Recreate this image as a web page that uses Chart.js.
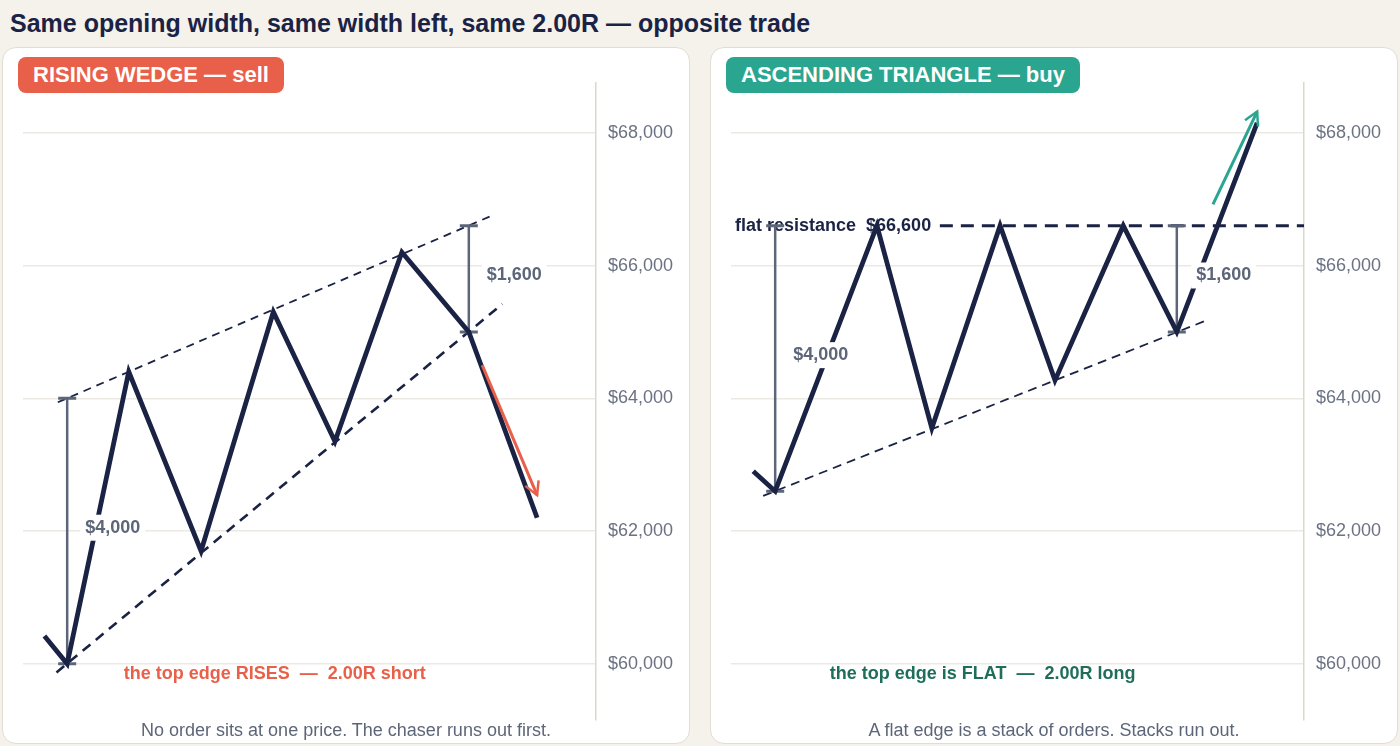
<!DOCTYPE html>
<html>
<head>
<meta charset="utf-8">
<script src="https://cdn.jsdelivr.net/npm/chart.js@4.4.1/dist/chart.umd.min.js"></script>
<style>
  body { margin:0; width:1400px; height:746px; background:#f5f2ec; font-family:"Liberation Sans", Arial, sans-serif; position:relative; overflow:hidden; }
  h1 { position:absolute; left:10px; top:8px; margin:0; font-size:25px; line-height:30px; color:#1b2345; font-weight:bold; }
  .card { position:absolute; top:47px; width:688px; height:697px; box-sizing:border-box; background:#fff; border:1px solid #e2ddd2; border-radius:14px; }
  .card canvas { position:absolute; left:0; top:0; }
  .badge { position:absolute; left:15px; top:9px; height:36px; line-height:36px; padding:0 15px; border-radius:8px; color:#fff; font-weight:bold; font-size:22px; }
  .caption { position:absolute; left:0; width:100%; top:671px; text-align:center; font-size:18px; line-height:22px; color:#5d6679; }
</style>
</head>
<body>
<h1>Same opening width, same width left, same 2.00R — opposite trade</h1>

<div class="card" style="left:2px">
  <canvas id="wedge" width="686" height="695"></canvas>
  <div class="badge" style="background:#e8604a">RISING WEDGE — sell</div>
  <div class="caption">No order sits at one price. The chaser runs out first.</div>
</div>

<div class="card" style="left:710px">
  <canvas id="triangle" width="686" height="695"></canvas>
  <div class="badge" style="background:#2aa58f">ASCENDING TRIANGLE — buy</div>
  <div class="caption">A flat edge is a stack of orders. Stacks run out.</div>
</div>

<script>
// price ticks shared by both panels
const yTicks = [60000, 62000, 64000, 66000, 68000];

// rising wedge
const wedgeX = [-1.7, 0, 4.6, 10, 15.4, 20, 25, 30, 35.1];
const wedgeY = [60420, 60000, 64400, 61700, 65300, 63350, 66200, 65000, 62200];
const wedgeTopX = [-0.7, 31.7];
const wedgeTopY = [63940, 66750];
const wedgeBotX = [-0.8, 32.5];
const wedgeBotY = [59870, 65420];
const wedgeArrowX = [31.0, 35.1];
const wedgeArrowY = [64500, 62540];
const wedgeMeasureX = [0, 30];
const wedgeMeasureTop = [64000, 66600];
const wedgeMeasureBot = [60000, 65000];

// ascending triangle
const triX = [-1.64, 0, 7.6, 11.7, 16.8, 20.9, 26.0, 30, 36.0];
const triY = [62900, 62600, 66600, 63550, 66600, 64270, 66600, 65000, 68150];
const triFlatX = [12.3, 39.5];
const triFlatY = [66600, 66600];
const triBotX = [-0.9, 32.3];
const triBotY = [62530, 65180];
const triArrowX = [32.7, 36.0];
const triArrowY = [66920, 68320];
const triMeasureX = [0, 30];
const triMeasureTop = [66600, 66600];
const triMeasureBot = [62600, 65000];

const FONT = '"Liberation Sans", Arial, sans-serif';
const NAVY = '#1b2345';
const SLATE = '#5d6679';

const pts = (xs, ys) => xs.map((x, i) => ({ x: x, y: ys[i] }));
const money = v => '$' + v.toLocaleString('en-US');

function measureSets(xs, tops, bots) {
  return xs.map((x, i) => ({
    data: [{ x: x, y: tops[i] }, { x: x, y: bots[i] }],
    borderColor: SLATE, borderWidth: 2.5,
    pointStyle: 'line', pointRadius: 9, pointBorderWidth: 3,
    pointBorderColor: SLATE, pointBackgroundColor: SLATE
  }));
}

function drawText(chart, l) {
  const ctx = chart.ctx;
  const x = chart.scales.x.getPixelForValue(l.x);
  const y = chart.scales.y.getPixelForValue(l.y);
  ctx.save();
  ctx.font = 'bold 18px ' + FONT;
  ctx.textAlign = l.align || 'center';
  ctx.textBaseline = 'middle';
  if (l.bg) {
    const w = ctx.measureText(l.text).width;
    const left = l.align === 'left' ? x : x - w / 2;
    ctx.fillStyle = '#fff';
    ctx.fillRect(left - 5, y - 13, w + 10, 26);
  }
  ctx.fillStyle = l.color;
  ctx.fillText(l.text, x, y);
  ctx.restore();
}

// labels and arrow heads, placed through the chart scales
const notes = {
  id: 'notes',
  beforeDatasetsDraw(chart, args, opts) {
    (opts.under || []).forEach(l => drawText(chart, l));
  },
  afterDatasetsDraw(chart, args, opts) {
    const ctx = chart.ctx;
    if (opts.arrow) {
      const meta = chart.getDatasetMeta(opts.arrow.index);
      const a = meta.data[0], b = meta.data[1];
      const ang = Math.atan2(b.y - a.y, b.x - a.x);
      ctx.save();
      ctx.strokeStyle = opts.arrow.color;
      ctx.lineWidth = 2.5;
      ctx.lineJoin = 'miter';
      ctx.beginPath();
      ctx.moveTo(b.x - 15 * Math.cos(ang - 0.5), b.y - 15 * Math.sin(ang - 0.5));
      ctx.lineTo(b.x, b.y);
      ctx.lineTo(b.x - 15 * Math.cos(ang + 0.5), b.y - 15 * Math.sin(ang + 0.5));
      ctx.stroke();
      ctx.restore();
    }
    (opts.over || []).forEach(l => drawText(chart, l));
  }
};

function makePanel(id, datasets, noteOpts) {
  return new Chart(document.getElementById(id), {
    type: 'line',
    data: { datasets: datasets },
    plugins: [notes],
    options: {
      responsive: false,
      animation: false,
      layout: { padding: { left: 20, top: 35, right: 0, bottom: 20 } },
      plugins: { legend: { display: false }, tooltip: { enabled: false }, notes: noteOpts },
      elements: { line: { tension: 0 } },
      scales: {
        x: { type: 'linear', min: -3.3, max: 39.5, display: false },
        y: {
          type: 'linear', position: 'right', min: 59150, max: 68750,
          afterBuildTicks: s => { s.ticks = yTicks.map(v => ({ value: v })); },
          afterFit: s => { s.width = 93; },
          grid: { color: '#ece9e2', lineWidth: 1.5, drawTicks: false },
          border: { color: '#dcd7cc', width: 1.5 },
          ticks: { padding: 12, color: '#6b7283', font: { size: 18, family: FONT }, callback: v => money(v) }
        }
      }
    }
  });
}

Chart.defaults.font.family = FONT;

makePanel('wedge', [
  { data: pts(wedgeArrowX, wedgeArrowY), borderColor: '#e8604a', borderWidth: 3, pointRadius: 0 },
  { data: pts(wedgeX, wedgeY), borderColor: NAVY, borderWidth: 4.8, pointRadius: 0, borderJoinStyle: 'miter' },
  ...measureSets(wedgeMeasureX, wedgeMeasureTop, wedgeMeasureBot),
  { data: pts(wedgeTopX, wedgeTopY), borderColor: NAVY, borderWidth: 1.8, borderDash: [8, 6], pointRadius: 0 },
  { data: pts(wedgeBotX, wedgeBotY), borderColor: NAVY, borderWidth: 2.6, borderDash: [10, 7], pointRadius: 0 }
], {
  arrow: { index: 0, color: '#e8604a' },
  over: [
    { text: money(wedgeMeasureTop[0] - wedgeMeasureBot[0]), x: 3.4, y: 62050, color: SLATE, bg: true },
    { text: money(wedgeMeasureTop[1] - wedgeMeasureBot[1]), x: 33.4, y: 65850, color: SLATE, bg: true },
    { text: 'the top edge RISES  —  2.00R short', x: 15.5, y: 59850, color: '#e8604a' }
  ]
});

makePanel('triangle', [
  { data: pts(triArrowX, triArrowY), borderColor: '#2aa58f', borderWidth: 3, pointRadius: 0 },
  { data: pts(triX, triY), borderColor: NAVY, borderWidth: 4.8, pointRadius: 0, borderJoinStyle: 'miter' },
  ...measureSets(triMeasureX, triMeasureTop, triMeasureBot),
  { data: pts(triFlatX, triFlatY), borderColor: NAVY, borderWidth: 3, borderDash: [13, 8], pointRadius: 0 },
  { data: pts(triBotX, triBotY), borderColor: NAVY, borderWidth: 1.8, borderDash: [9, 6], pointRadius: 0 }
], {
  arrow: { index: 0, color: '#2aa58f' },
  under: [
    { text: 'flat resistance  ' + money(triFlatY[0]), x: -3.0, y: 66600, color: NAVY, align: 'left' }
  ],
  over: [
    { text: money(triMeasureTop[0] - triMeasureBot[0]), x: 3.4, y: 64650, color: SLATE, bg: true },
    { text: money(triMeasureTop[1] - triMeasureBot[1]), x: 33.5, y: 65850, color: SLATE, bg: true },
    { text: 'the top edge is FLAT  —  2.00R long', x: 15.5, y: 59850, color: '#1e6e5b' }
  ]
});
</script>
</body>
</html>
